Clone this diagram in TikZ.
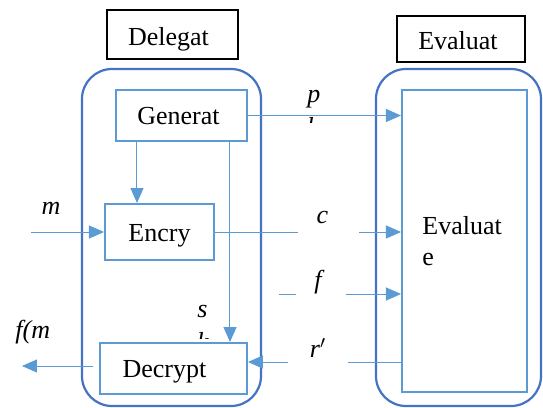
\documentclass[tikz,border=0pt]{standalone}
\usepackage{fontspec}
\setmainfont{Liberation Serif}
\usetikzlibrary{arrows.meta}
\definecolor{frameblue}{HTML}{4472C4}
\definecolor{lineblue}{HTML}{5B9BD5}
\begin{document}
\begin{tikzpicture}[x=0.5pt,y=-0.5pt,
  every node/.style={font=\fontsize{13pt}{15.5pt}\selectfont,inner sep=0pt},
  title/.style={draw=black,line width=0.6pt,text height=10.5pt,text depth=0pt},
  unit/.style={draw=lineblue,line width=1pt,text height=9pt,text depth=0pt},
  frame/.style={draw=frameblue,line width=1.1pt,rounded corners=15pt},
  wire/.style={draw=lineblue,line width=0.5pt},
  arr/.style={wire,-{Triangle[length=7.5pt,width=6.5pt]}},
  var/.style={font=\fontsize{13pt}{15.5pt}\selectfont\itshape,anchor=base}]
\useasboundingbox (0,0) rectangle (543,408);
\draw[frame] (82,69) rectangle (261,406);
\draw[frame] (376,69) rectangle (541,406);
\node[title,minimum width=65.5pt,minimum height=24.5pt] (delegat) at (172.5,34.5) {Delegat\kern4pt};
\node[title,minimum width=64pt,minimum height=23pt] (evaluat) at (461,39) {Evaluat\kern3pt};
\node[unit,minimum width=65.5pt,minimum height=25.5pt] (generat) at (181.5,115.5) {Generat\kern3pt};
\node[unit,minimum width=54.5pt,minimum height=28pt] (encry) at (159.5,232) {Encry};
\node[unit,minimum width=73.5pt,minimum height=25.5pt] (decrypt) at (173.5,368.5) {Decrypt\kern9pt};
\node[unit,minimum width=62.5pt,minimum height=151pt] (evaluate) at (464.5,241) {};
\node[anchor=base west] (evtxt) at (422,234) {Evaluat};
\node[anchor=base west] (evtxtb) at (422,265) {e};
% labels
\node[var] (plbl) at (314,102) {p};
\begin{scope}
\clip (300,114) rectangle (330,122);
\node[var] (pk) at (313,135) {k};
\end{scope}
\node[var] (mlbl) at (51,214) {m};
\node[var] (clbl) at (322.5,223) {c};
\node[var] (flbl) at (318,288) {f};
\node[var] (rlbl) at (318,357) {r$'$};
\node[var] (slbl) at (202.5,317) {s};
\begin{scope}
\clip (190,329) rectangle (220,338);
\node[var] (sk) at (203,350) {k};
\end{scope}
\node[var,anchor=base west] (fmlbl) at (15,338) {f(m};
% loose ends
\coordinate (min) at (31,232);
\coordinate (cL) at (298,232);
\coordinate (cR) at (359,232);
\coordinate (fL) at (279,294);
\coordinate (fM) at (296,294);
\coordinate (fR) at (346,294);
\coordinate (rR) at (348,362);
\coordinate (rL) at (288,362);
\coordinate (outR) at (93,366);
\coordinate (outL) at (22,366);
% connectors
\draw[arr] (generat.east) -- (generat.east -| evaluate.west);
\draw[arr] ([xshift=-22.25pt]generat.south) -- ([xshift=-22.25pt]generat.south |- encry.north);
\draw[arr] ([xshift=24.25pt]generat.south) -- ([xshift=24.25pt]generat.south |- decrypt.north);
\draw[arr] (min) -- (encry.west);
\draw[wire] (encry.east) -- (cL);
\draw[arr] (cR) -- (cR -| evaluate.west);
\draw[wire] (fL) -- (fM);
\draw[arr] (fR) -- (fR -| evaluate.west);
\draw[wire] (rR -| evaluate.west) -- (rR);
\draw[arr] (rL) -- (rL -| decrypt.east);
\draw[arr] (outR) -- (outL);
\end{tikzpicture}
\end{document}
